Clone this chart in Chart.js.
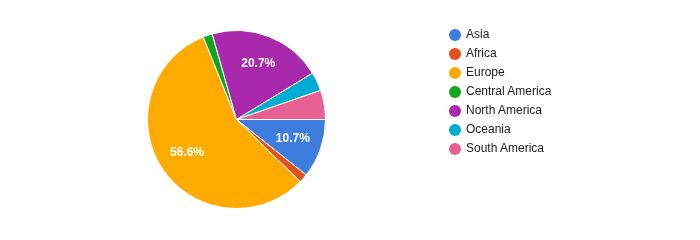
<!DOCTYPE html>
<html>
<head>
<meta charset="utf-8">
<script src="https://cdn.jsdelivr.net/npm/chart.js@4.4.0/dist/chart.umd.min.js"></script>
<style>
  html, body { margin: 0; padding: 0; background: #fff; }
  #wrap { position: relative; width: 700px; height: 240px; }
  #regionChart { position: absolute; left: 0; top: 0; }
  #legend { position: absolute; left: 449px; top: 25px; margin: 0; padding: 0; list-style: none;
            font-family: Arial, "Liberation Sans", sans-serif; font-size: 12px; color: #222; }
  #legend li { height: 19px; line-height: 19px; display: flex; align-items: center; }
  #legend span.dot { width: 12px; height: 12px; border-radius: 50%; margin-right: 5px; display: inline-block; }
</style>
</head>
<body>
<div id="wrap">
  <canvas id="regionChart" width="700" height="240"></canvas>
  <ul id="legend"></ul>
</div>
<script>
const regions = ['Asia', 'Africa', 'Europe', 'Central America', 'North America', 'Oceania', 'South America'];
const shares = [10.7, 1.6, 56.6, 1.7, 20.7, 3.4, 5.3];
const colors = ['#3d7ddd', '#e2521d', '#ffab00', '#11a61f', '#a829ab', '#00acd1', '#e66192'];

// percentage text inside the bigger slices
const sliceLabels = {
    id: 'sliceLabels',
    afterDatasetsDraw(chart) {
        const ctx = chart.ctx;
        const meta = chart.getDatasetMeta(0);
        ctx.save();
        ctx.font = 'bold 12px Arial, "Liberation Sans", sans-serif';
        ctx.fillStyle = '#fff';
        ctx.textAlign = 'center';
        ctx.textBaseline = 'middle';
        meta.data.forEach((arc, i) => {
            if (shares[i] < 10) return;
            const p = arc.getProps(['x', 'y', 'startAngle', 'endAngle', 'outerRadius'], true);
            const mid = (p.startAngle + p.endAngle) / 2;
            const r = p.outerRadius * 0.67;
            ctx.fillText(shares[i].toFixed(1) + '%', p.x + Math.cos(mid) * r, p.y + Math.sin(mid) * r);
        });
        ctx.restore();
    }
};

const ctx = document.getElementById('regionChart').getContext('2d');
const regionChart = new Chart(ctx, {
    type: 'pie',
    data: {
        labels: regions,
        datasets: [{
            data: shares,
            backgroundColor: colors,
            borderColor: '#fff',
            borderWidth: 1
        }]
    },
    options: {
        responsive: false,
        animation: false,
        rotation: 90,
        layout: {
            padding: { left: 147, right: 374, top: 30, bottom: 31 }
        },
        plugins: {
            legend: { display: false },
            tooltip: { enabled: false }
        }
    },
    plugins: [sliceLabels]
});

const legend = document.getElementById('legend');
regions.forEach((name, i) => {
    const li = document.createElement('li');
    li.innerHTML = '<span class="dot" style="background:' + colors[i] + '"></span>' + name;
    legend.appendChild(li);
});
</script>
</body>
</html>
